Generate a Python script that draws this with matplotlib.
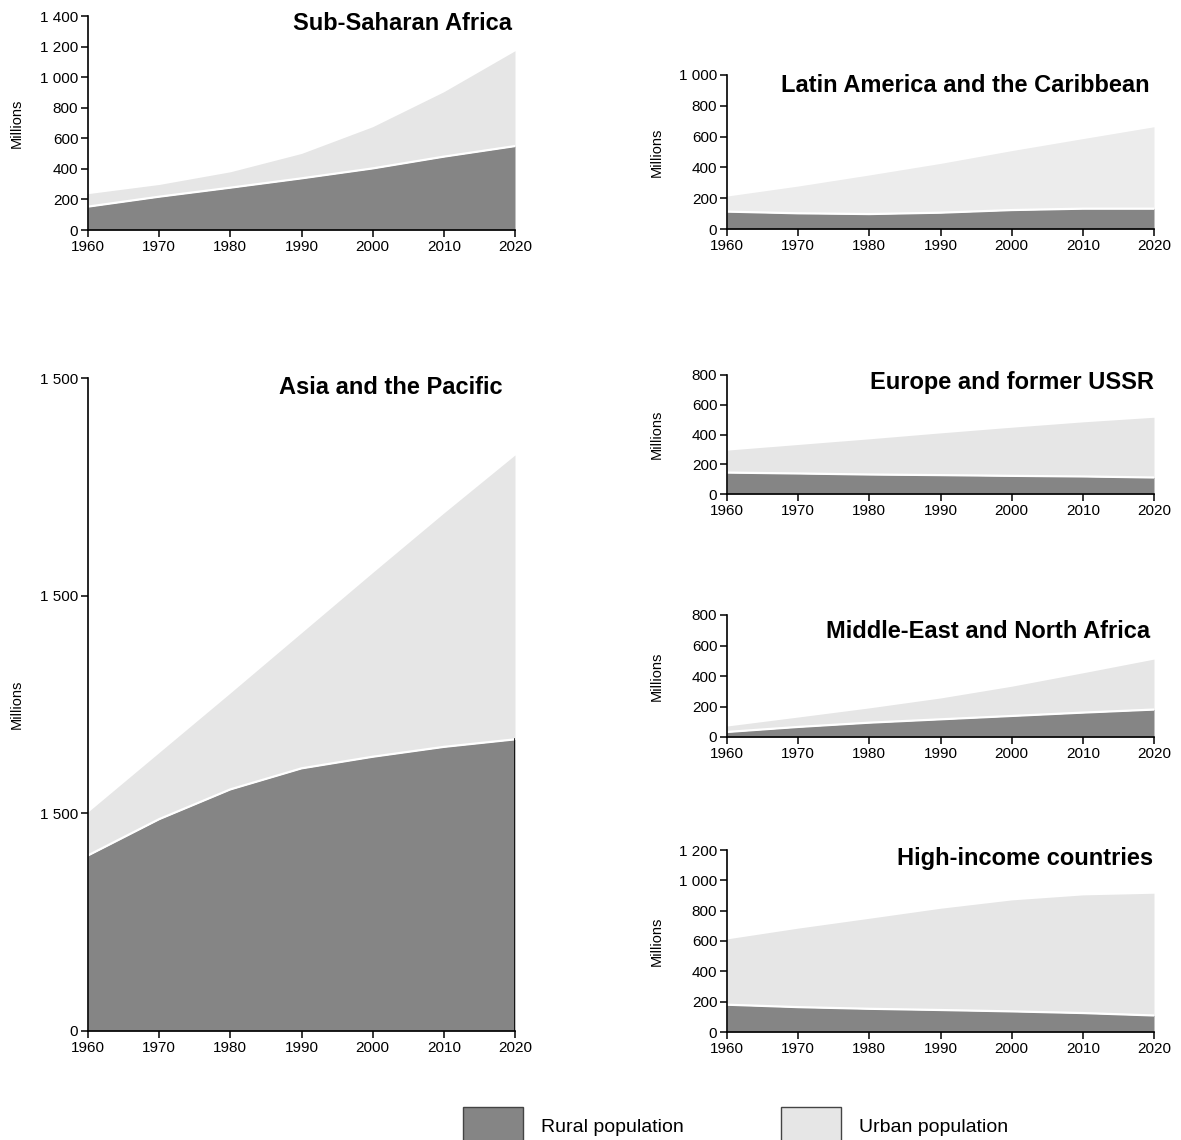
import matplotlib
matplotlib.use("Agg")
import matplotlib.pyplot as plt
from matplotlib.patches import Rectangle
from matplotlib.ticker import FixedLocator, FuncFormatter

plt.rcParams['font.family'] = ['Liberation Sans', 'DejaVu Sans']

years = [1960, 1970, 1980, 1990, 2000, 2010, 2020]

# Population in millions (rural, urban) by region
ssa_rural = [153, 218, 277, 338, 403, 480, 549]
ssa_urban = [85, 80, 104, 163, 273, 425, 624]

asia_rural = [1210, 1460, 1665, 1810, 1890, 1958, 2010]
asia_urban = [300, 460, 665, 935, 1270, 1612, 1960]

lac_rural = [113, 102, 97, 106, 123, 132, 132]
lac_urban = [101, 177, 254, 320, 386, 455, 532]

eur_rural = [144, 138, 131, 127, 122, 118, 111]
eur_urban = [151, 195, 240, 284, 327, 367, 405]

mena_rural = [33, 66, 94, 116, 138, 160, 180]
mena_urban = [39, 65, 97, 140, 195, 261, 331]

hic_rural = [180, 164, 153, 145, 136, 125, 109]
hic_urban = [434, 521, 597, 671, 735, 779, 806]

asia_tick_values = [0, 1500, 3000, 4500]
asia_tick_labels = ["0", "1 500", "1 500", "1 500"]

legend_labels = ["Rural population", "Urban population"]

RURAL = "#858585"
URBAN = "#e6e6e6"

W, H = 1181, 1140
fig = plt.figure(figsize=(W / 100, H / 100), dpi=100)


def px_axes(left, top, right, bottom):
    return fig.add_axes([left / W, 1 - bottom / H, (right - left) / W, (bottom - top) / H])


def thousands(v, pos=None):
    return f"{int(round(v)):,}".replace(",", " ")


def panel(box, title, rural, urban, ymax, ystep, title_px, label_x, urban_color=URBAN,
          ticks=None, ticklabels=None, edge=False):
    left, top, right, bottom = box
    ax = px_axes(left, top, right, bottom)
    total = [r + u for r, u in zip(rural, urban)]
    ax.fill_between(years, 0, rural, color=RURAL, lw=0)
    ax.fill_between(years, rural, total, color=urban_color, lw=0)
    ax.plot(years, rural, color="white", lw=1.6)
    if edge:
        ax.plot([years[-1], years[-1]], [0, rural[-1]], color="black", lw=1.2)
    ax.set_xlim(1960, 2020)
    ax.set_ylim(0, ymax)
    ax.xaxis.set_major_locator(FixedLocator(years))
    if ticks is None:
        ticks = list(range(0, ymax + 1, ystep))
        ax.yaxis.set_major_locator(FixedLocator(ticks))
        ax.yaxis.set_major_formatter(FuncFormatter(thousands))
    else:
        ax.set_yticks(ticks)
        ax.set_yticklabels(ticklabels)
    for s in ("top", "right"):
        ax.spines[s].set_visible(False)
    for s in ("left", "bottom"):
        ax.spines[s].set_linewidth(1.2)
    ax.tick_params(axis="both", direction="out", length=5, width=1.1,
                   labelsize=11, pad=2)
    ax.set_ylabel("Millions", fontsize=10.5)
    # place the axis label at a fixed horizontal pixel position
    ax.yaxis.set_label_coords((label_x - left) / (right - left), 0.5)
    tx, ty = title_px
    fig.text(tx / W, 1 - ty / H, title, ha="right", va="center",
             fontsize=17, fontweight="bold")
    return ax


panel((88, 16, 515, 230), "Sub-Saharan Africa", ssa_rural, ssa_urban, 1400, 200, (512, 23), 24)
panel((88, 378, 515, 1031), "Asia and the Pacific", asia_rural, asia_urban, 4500, 1500, (503, 388), 24,
      ticks=asia_tick_values, ticklabels=asia_tick_labels, edge=True)
panel((727, 75, 1154, 229), "Latin America and the Caribbean", lac_rural, lac_urban, 1000, 200,
      (1150, 86), 664, urban_color="#ececec")
panel((727, 375, 1154, 494), "Europe and former USSR", eur_rural, eur_urban, 800, 200, (1154, 383), 664)
panel((727, 615, 1154, 737), "Middle-East and North Africa", mena_rural, mena_urban, 800, 200,
      (1150, 632), 664)
panel((727, 850, 1154, 1032), "High-income countries", hic_rural, hic_urban, 1200, 200, (1153, 858), 664)

# Legend swatches along the bottom edge
for (x0, color), label in zip([(463, RURAL), (781, URBAN)], legend_labels):
    fig.patches.append(Rectangle((x0 / W, 1 - 1150 / H), 60 / W, 43 / H,
                                 transform=fig.transFigure, facecolor=color,
                                 edgecolor="#444444", lw=1.0))
    fig.text((x0 + 78) / W, 1 - 1127 / H, label, ha="left", va="center", fontsize=14)

fig.savefig("out.png", dpi=100)
